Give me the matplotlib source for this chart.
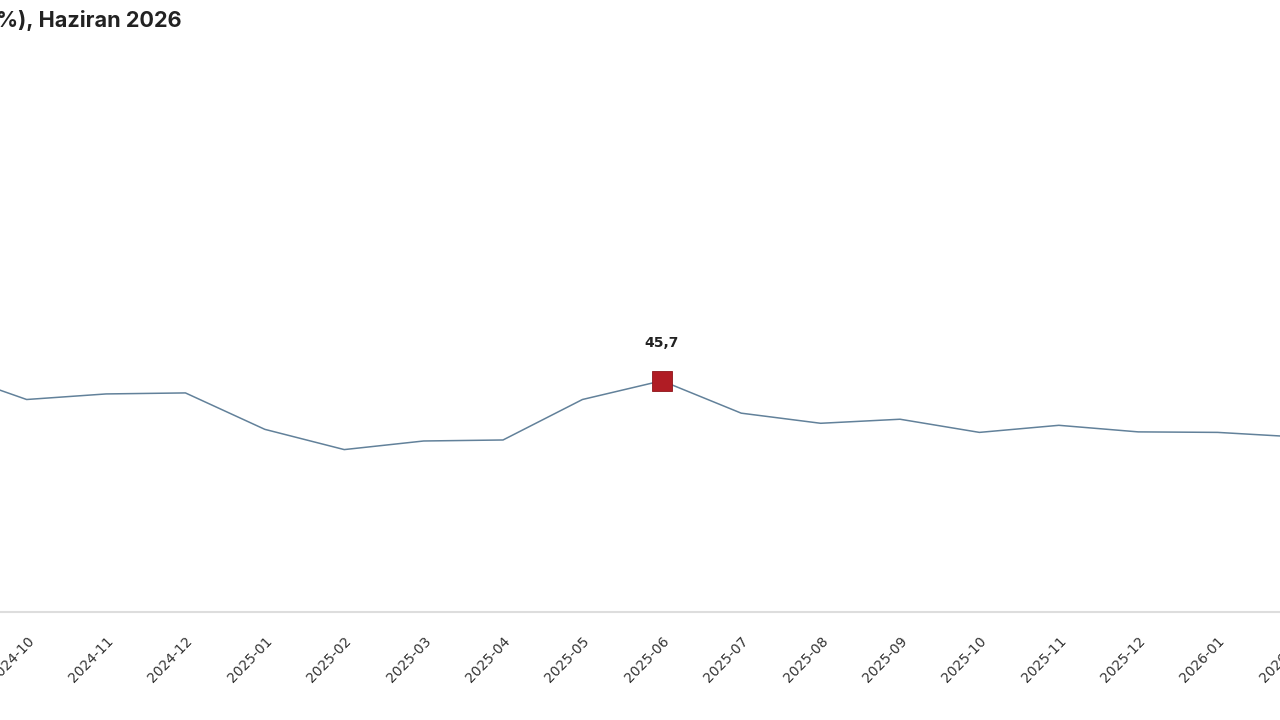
import numpy as np
import matplotlib.pyplot as plt

# monthly values (first and last month are cut by the frame)
months = ['2024-09', '2024-10', '2024-11', '2024-12', '2025-01', '2025-02',
          '2025-03', '2025-04', '2025-05', '2025-06', '2025-07', '2025-08',
          '2025-09', '2025-10', '2025-11', '2025-12', '2026-01', '2026-02']
values = [47.5, 42.0, 43.1, 43.3, 36.1, 32.1, 33.8, 34.0, 42.0, 45.7,
          39.3, 37.3, 38.1, 35.5, 36.9, 35.6, 35.5, 34.6]
highlight = '2025-06'
title = '%), Haziran 2026'

LINE = '#62819a'
RED = '#b01c24'

fig = plt.figure(figsize=(12.8, 7.2), dpi=100)
# axes run past the figure edges, the reference is a crop of a wider chart
ax = fig.add_axes([-0.2, 0.15, 1.4, 0.78])

x = np.arange(len(months))
ax.plot(x, values, color=LINE, lw=1.1, zorder=2)

hi = months.index(highlight)
ax.plot(x[hi], values[hi], marker='s', ms=14.4, color=RED,
        markeredgecolor='#8e1419', markeredgewidth=0.6, zorder=3)
ax.annotate(f'{values[hi]:.1f}'.replace('.', ','), (x[hi], values[hi]),
            xytext=(0, 27), textcoords='offset points', ha='center', va='center',
            fontsize=10, fontweight='bold', color='#222222')

ax.set_xlim(-2.56, 20.01)
ax.set_ylim(0, 111)

ax.set_xticks(x)
ax.set_xticklabels(months)
ax.tick_params(axis='x', length=0, pad=16, labelsize=10, labelcolor='#333333')
plt.setp(ax.get_xticklabels(), rotation=46, ha='right', va='top',
         rotation_mode='anchor')
ax.set_yticks([])

for side in ['top', 'left', 'right']:
    ax.spines[side].set_visible(False)
ax.spines['bottom'].set_color('#dddddd')
ax.spines['bottom'].set_linewidth(1.5)

fig.text(-0.003, 0.972, title, fontsize=15.6, fontweight='bold',
         family=['Inter', 'DejaVu Sans'], color='#222222', va='center', ha='left')

fig.savefig('out.png', dpi=100)
